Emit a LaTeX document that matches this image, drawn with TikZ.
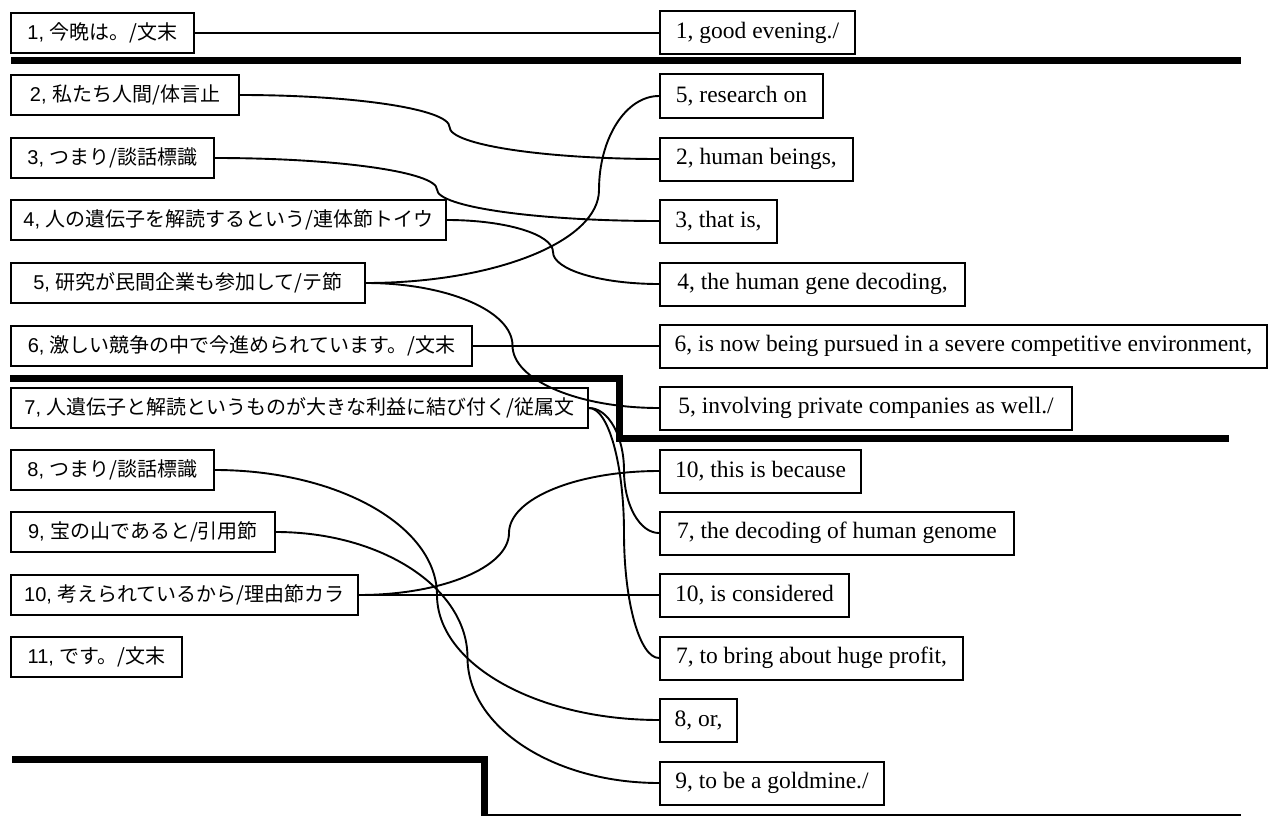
\documentclass[tikz,border=0pt]{standalone}
\usepackage{fontspec}
\setmainfont{Liberation Serif}
\newfontfamily\lsans{Liberation Sans}
\newfontfamily\jpf{Noto Sans CJK JP}
\usetikzlibrary{calc}
% S-shaped connector made of two quarter-ellipses meeting at a vertical tangent
\newcommand\myconnat[3]{%
  \coordinate (cm) at #3;
  \coordinate (ca) at (cm |- #1.east);
  \coordinate (cb) at (cm |- #2.west);
  \draw[conn] (#1.east) .. controls ($(#1.east)!0.552!(ca)$) and ($(cm)!0.552!(ca)$) .. (cm)
    .. controls ($(cm)!0.552!(cb)$) and ($(#2.west)!0.552!(cb)$) .. (#2.west);}
\newcommand\myconn[2]{\myconnat{#1}{#2}{($(#1.east)!0.5!(#2.west)$)}}
\begin{document}
\begin{tikzpicture}[x=1pt,y=-1pt,
  lbox/.style={draw,line width=2pt,anchor=west,minimum height=40pt,inner sep=0pt,font=\lsans\fontsize{20}{24}\selectfont},
  rbox/.style={draw,line width=2pt,anchor=west,minimum height=43pt,inner sep=0pt,font=\fontsize{23.5}{28}\selectfont},
  conn/.style={line width=1.9pt},
  rulebar/.style={line width=7pt}]
\useasboundingbox (0,0) rectangle (1269,816);
\clip (0,0) rectangle (1269,816);
% left column
\node[lbox,minimum width=183pt] (l1) at (10,33) {1, {\jpf 今晩は。/文末}};
\node[lbox,minimum width=228pt] (l2) at (10,95) {2, {\jpf 私たち人間/体言止}};
\node[lbox,minimum width=203pt] (l3) at (10,158) {3, {\jpf つまり/談話標識}};
\node[lbox,minimum width=435pt] (l4) at (10,220) {4, {\jpf 人の遺伝子を解読するという/連体節トイウ}};
\node[lbox,minimum width=354pt] (l5) at (10,283) {5, {\jpf 研究が民間企業も参加して/テ節}};
\node[lbox,minimum width=461pt] (l6) at (10,346) {6, {\jpf 激しい競争の中で今進められています。/文末}};
\node[lbox,minimum width=577pt] (l7) at (10,408) {7, {\jpf 人遺伝子と解読というものが大きな利益に結び付く/従属文}};
\node[lbox,minimum width=203pt] (l8) at (10,470) {8, {\jpf つまり/談話標識}};
\node[lbox,minimum width=264pt] (l9) at (10,532) {9, {\jpf 宝の山であると/引用節}};
\node[lbox,minimum width=347pt] (l10) at (10,595) {10, {\jpf 考えられているから/理由節カラ}};
\node[lbox,minimum width=171pt] (l11) at (10,657) {11, {\jpf です。/文末}};
% right column
\node[rbox,minimum width=195pt] (r1) at (659,33) {1, good evening./};
\node[rbox,minimum width=163pt] (r5a) at (659,96) {5, research on};
\node[rbox,minimum width=193pt] (r2) at (659,159) {2, human beings,};
\node[rbox,minimum width=117pt] (r3) at (659,221) {3, that is,};
\node[rbox,minimum width=305pt] (r4) at (659,284) {4, the human gene decoding,};
\node[rbox,minimum width=607pt] (r6) at (659,346) {6, is now being pursued in a severe competitive environment,};
\node[rbox,minimum width=412pt] (r5b) at (659,408) {5, involving private companies as well./};
\node[rbox,minimum width=201pt] (r10a) at (659,471) {10, this is because};
\node[rbox,minimum width=354pt] (r7a) at (659,533) {7, the decoding of human genome};
\node[rbox,minimum width=189pt] (r10b) at (659,595) {10, is considered};
\node[rbox,minimum width=303pt] (r7b) at (659,658) {7, to bring about huge profit,};
\node[rbox,minimum width=77pt] (r8) at (659,720) {8, or,};
\node[rbox,minimum width=224pt] (r9) at (659,783) {9, to be a goldmine./};
% connectors
\draw[conn] (l1) -- (r1);
\myconn{l2}{r2}
\myconn{l3}{r3}
\myconn{l4}{r4}
\myconnat{l5}{r5a}{(599,190)}
\myconn{l5}{r5b}
\draw[conn] (l6) -- (r6);
\myconn{l7}{r7a}
\myconn{l7}{r7b}
\myconn{l8}{r8}
\myconn{l9}{r9}
\myconn{l10}{r10a}
\draw[conn] (l10) -- (r10b);
% separator rules
\draw[rulebar] (11,60.5) -- (1241,60.5);
\draw[rulebar] (10,378.5) -| (619,438) -- (1229,438);
\draw[rulebar] (12,759) -| (484,817.5) -- (1241,817.5);
\end{tikzpicture}
\end{document}
